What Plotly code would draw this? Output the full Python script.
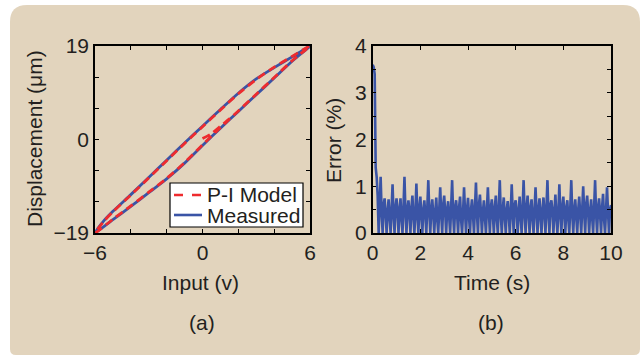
import numpy as np
import plotly.graph_objects as go

W, H = 642, 357

# ---------------- data: panel (a) hysteresis ----------------
u_desc = [6, 5, 4, 3, 2, 1, 0, -1, -2, -3, -4, -5, -5.5, -6]
meas_upper = [19, 16.8, 14.6, 12.3, 9.4, 6.1, 2.7, -0.7, -4.2, -7.7, -11.2, -14.6, -16.5, -19]
u_asc = [-6, -5, -4, -3, -2, -1, 0, 1, 2, 3, 4, 5, 6]
meas_lower = [-19, -16.3, -13.6, -10.8, -8.0, -4.8, -1.2, 2.3, 5.7, 9.1, 12.5, 15.9, 19]

# P-I model: initial loading curve then the loop
u_init = [0, 0.5, 1.0, 1.5, 2.0, 3, 4, 5, 6]
model_init = [0.2, 1.2, 2.7, 4.2, 5.8, 9.2, 12.6, 16.0, 19]
model_upper = [19, 16.9, 14.7, 12.2, 9.3, 6.0, 2.6, -0.8, -4.3, -7.8, -11.3, -14.7, -16.6, -19]
model_lower = [-19, -16.2, -13.5, -10.7, -7.9, -4.7, -1.1, 2.4, 5.8, 9.2, 12.6, 16.0, 19]

xa_tickvals = [-6, -4, -2, 0, 2, 4, 6]
xa_ticktext = ["\u22126", "", "", "0", "", "", "6"]
ya_tickvals = [-19, -19 * 2 / 3, -19 / 3, 0, 19 / 3, 19 * 2 / 3, 19]
ya_ticktext = ["\u221219", "", "", "0", "", "", "19"]

legend_labels = ["P-I Model", "Measured"]

# ---------------- data: panel (b) error ----------------
err_cycles = [
    [3.60, 3.55, 3.40, 1.40, 1.20, 0.80, 0.00, 0.55, 1.20, 0.45, 0.00, 0.60],
    [0.74, 0.40, 0.00, 0.45, 0.72, 0.35, 0.00, 0.50, 1.04, 0.40, 0.00, 0.55],
    [0.74, 0.45, 0.00, 0.50, 0.74, 0.30, 0.00, 0.55, 1.20, 0.45, 0.00, 0.50],
    [0.70, 0.40, 0.00, 0.55, 0.80, 0.35, 0.00, 0.45, 1.06, 0.40, 0.00, 0.55],
    [0.78, 0.35, 0.00, 0.50, 0.70, 0.40, 0.00, 0.55, 1.13, 0.45, 0.00, 0.50],
    [0.72, 0.40, 0.00, 0.45, 0.76, 0.30, 0.00, 0.50, 0.98, 0.40, 0.00, 0.60],
    [0.80, 0.45, 0.00, 0.50, 0.68, 0.35, 0.00, 0.55, 1.13, 0.40, 0.00, 0.55],
    [0.70, 0.40, 0.00, 0.55, 0.78, 0.30, 0.00, 0.45, 0.98, 0.45, 0.00, 0.50],
    [0.75, 0.35, 0.00, 0.50, 0.72, 0.40, 0.00, 0.55, 1.08, 0.40, 0.00, 0.60],
    [0.82, 0.45, 0.00, 0.45, 0.70, 0.35, 0.00, 0.50, 0.98, 0.45, 0.00, 0.55],
    [0.72, 0.40, 0.00, 0.55, 0.80, 0.30, 0.00, 0.55, 1.13, 0.40, 0.00, 0.50],
    [0.76, 0.35, 0.00, 0.50, 0.68, 0.40, 0.00, 0.45, 1.04, 0.45, 0.00, 0.60],
    [0.70, 0.45, 0.00, 0.45, 0.78, 0.35, 0.00, 0.55, 1.13, 0.40, 0.00, 0.55],
    [0.80, 0.40, 0.00, 0.55, 0.72, 0.30, 0.00, 0.50, 0.98, 0.45, 0.00, 0.50],
    [0.74, 0.35, 0.00, 0.50, 0.76, 0.40, 0.00, 0.55, 1.13, 0.40, 0.00, 0.60],
    [0.70, 0.45, 0.00, 0.45, 0.82, 0.35, 0.00, 0.45, 1.04, 0.45, 0.00, 0.55],
    [0.78, 0.40, 0.00, 0.55, 0.70, 0.30, 0.00, 0.55, 1.13, 0.40, 0.00, 0.50],
    [0.72, 0.35, 0.00, 0.50, 0.78, 0.40, 0.00, 0.50, 1.00, 0.45, 0.00, 0.60],
    [0.80, 0.45, 0.00, 0.45, 0.72, 0.35, 0.00, 0.55, 1.13, 0.40, 0.00, 0.55],
    [0.74, 0.40, 0.00, 0.55, 0.84, 0.30, 0.00, 0.50, 0.98, 0.45, 0.00, 0.50],
]
err_last = [0.60]
err_values = [v for c in err_cycles for v in c] + err_last
t_values = np.arange(len(err_values)) * (0.5 / 12)

xb_tickvals = [0, 2, 4, 6, 8, 10]
xb_ticktext = ["0", "2", "4", "6", "8", "10"]
yb_tickvals = [0, 0.5, 1, 1.5, 2, 2.5, 3, 3.5, 4]
yb_ticktext = ["0", "", "1", "", "2", "", "3", "", "4"]

# ---------------- styling ----------------
BLUE = "#3a54a6"
RED = "#ee2b2e"
TXT = "#231f20"
BEIGE = "#e2d4bd"
FONT = "Liberation Sans, Arial, sans-serif"
FS = 21


def px(x):
    return x / W


def py(y):
    return 1 - y / H


fig = go.Figure()

fig.add_trace(go.Scatter(
    x=u_desc + u_asc[1:], y=meas_upper + meas_lower[1:],
    mode="lines", line=dict(color=BLUE, width=2.8, shape="spline", smoothing=0.7),
    name=legend_labels[1], showlegend=False, xaxis="x", yaxis="y"))
fig.add_trace(go.Scatter(
    x=u_init + u_desc[1:] + u_asc[1:], y=model_init + model_upper[1:] + model_lower[1:],
    mode="lines", line=dict(color=RED, width=2.8, dash="8px,5px", shape="spline", smoothing=0.7),
    name=legend_labels[0], showlegend=False, xaxis="x", yaxis="y"))

fig.add_trace(go.Scatter(
    x=t_values, y=err_values, mode="lines",
    line=dict(color=BLUE, width=2.6), showlegend=False, xaxis="x2", yaxis="y2"))

axis_common = dict(
    showline=True, linecolor="black", linewidth=1.5, mirror="ticks",
    ticks="inside", ticklen=4, tickcolor="black", tickwidth=1,
    showgrid=False, zeroline=False, automargin=False,
    tickfont=dict(family=FONT, size=FS, color=TXT),
)

y0, y1 = py(233), py(46)
fig.update_layout(
    width=W, height=H,
    margin=dict(l=0, r=0, t=0, b=0, autoexpand=False),
    paper_bgcolor="white", plot_bgcolor="white",
    font=dict(family=FONT, size=FS, color=TXT),
    xaxis=dict(domain=[px(95), px(310)], range=[-6, 6], anchor="y",
               tickmode="array", tickvals=xa_tickvals, ticktext=xa_ticktext, **axis_common),
    yaxis=dict(domain=[y0, y1], range=[-19, 19], anchor="x",
               tickmode="array", tickvals=ya_tickvals, ticktext=ya_ticktext, **axis_common),
    xaxis2=dict(domain=[px(372.7), px(611)], range=[0, 10], anchor="y2",
                tickmode="array", tickvals=xb_tickvals, ticktext=xb_ticktext, **axis_common),
    yaxis2=dict(domain=[y0, y1], range=[0, 4], anchor="x2",
                tickmode="array", tickvals=yb_tickvals, ticktext=yb_ticktext, **axis_common),
    showlegend=False,
)

# beige rounded panel
L, R, T, B = px(10), px(640), py(5), py(355)
rtx, rty = px(17), 17 / H
rbx, rby = px(6), 6 / H
path = (f"M {L},{T - rty} Q {L},{T} {L + rtx},{T} "
        f"L {R - rtx},{T} Q {R},{T} {R},{T - rty} "
        f"L {R},{B + rby} Q {R},{B} {R - rbx},{B} "
        f"L {L + rbx},{B} Q {L},{B} {L},{B + rby} Z")
fig.add_shape(type="path", path=path, xref="paper", yref="paper",
              fillcolor=BEIGE, line=dict(width=0), layer="below")

# legend box (drawn in paper space)
fig.add_shape(type="rect", xref="paper", yref="paper",
              x0=px(170), x1=px(303), y0=py(227), y1=py(183),
              fillcolor="white", line=dict(color="black", width=1.2), layer="above")
fig.add_shape(type="line", xref="paper", yref="paper",
              x0=px(174), x1=px(202), y0=py(195), y1=py(195),
              line=dict(color=RED, width=2.6, dash="9px,9px"), layer="above")
fig.add_shape(type="line", xref="paper", yref="paper",
              x0=px(174), x1=px(202), y0=py(215), y1=py(215),
              line=dict(color=BLUE, width=2.6), layer="above")
for lab, yy in zip(legend_labels, [195, 215]):
    fig.add_annotation(text=lab, x=px(205), y=py(yy), xref="paper", yref="paper",
                       showarrow=False, xanchor="left", yanchor="middle",
                       font=dict(family=FONT, size=FS, color=TXT))

annos = [
    ("Displacement (\u03bcm)", 35, 139, -90),
    ("Error (%)", 334, 140, -90),
    ("Input (v)", 200, 282, 0),
    ("Time (s)", 492, 282, 0),
    ("(a)", 202, 322, 0),
    ("(b)", 491, 322, 0),
]
for text, x, y, ang in annos:
    fig.add_annotation(text=text, x=px(x), y=py(y), xref="paper", yref="paper",
                       showarrow=False, textangle=ang, xanchor="center", yanchor="middle",
                       font=dict(family=FONT, size=FS, color=TXT))

fig.write_html("out.html")
